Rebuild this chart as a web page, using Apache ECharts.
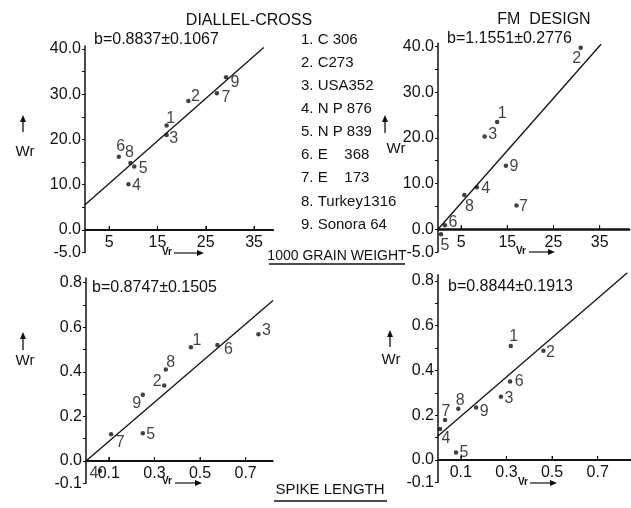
<!DOCTYPE html>
<html><head><meta charset="utf-8">
<script src="https://cdn.jsdelivr.net/npm/echarts@6/dist/echarts.min.js"></script>
<style>html,body{margin:0;padding:0;background:#fff}#c{width:631px;height:508px;background:#fff}</style>
</head><body><div id="c"></div>
<script>
// ---------- data ----------
const ids = ['1','2','3','4','5','6','7','8','9'];
const genotypes = ['C 306','C273','USA352','N P 876','N P 839','E    368','E    173','Turkey1316','Sonora 64'];

// 1000 grain weight, diallel cross
const dcGrainVr = [16.9, 21.4, 16.9, 9.0, 10.2, 7.0, 27.3, 9.4, 29.2];
const dcGrainWr = [23.1, 28.5, 21.0, 10.1, 14.0, 16.2, 30.2, 14.8, 33.7];
const dcGrainFitVr = [0, 37];
const dcGrainFitWr = [5.6, 40.3];
// 1000 grain weight, FM design
const fmGrainVr = [12.8, 30.9, 10.1, 8.4, 0.65, 1.5, 17.0, 5.7, 14.7];
const fmGrainWr = [23.5, 39.7, 20.3, 9.2, -1.1, 0.9, 5.2, 7.5, 13.9];
const fmGrainFitVr = [0, 35.3];
const fmGrainFitWr = [0, 40.5];
// spike length, diallel cross
const dcSpikeVr = [0.46, 0.343, 0.756, 0.061, 0.249, 0.576, 0.11, 0.35, 0.249];
const dcSpikeWr = [0.51, 0.338, 0.568, -0.045, 0.124, 0.52, 0.12, 0.41, 0.297];
const dcSpikeFitVr = [0, 0.82];
const dcSpikeFitWr = [0, 0.72];
// spike length, FM design
const fmSpikeVr = [0.319, 0.462, 0.276, 0.009, 0.079, 0.316, 0.031, 0.089, 0.167];
const fmSpikeWr = [0.509, 0.488, 0.283, 0.138, 0.033, 0.35, 0.179, 0.229, 0.235];
const fmSpikeFitVr = [0, 0.83];
const fmSpikeFitWr = [0.107, 0.836];

const grainWrTicks = [-5, 0, 10, 20, 30, 40];
const grainVrTicks = [5, 15, 25, 35];
const spikeWrTicks = [-0.1, 0, 0.2, 0.4, 0.6, 0.8];
const spikeVrTicks = [0.1, 0.3, 0.5, 0.7];

const slopeTexts = ['b=0.8837±0.1067', 'b=1.1551±0.2776', 'b=0.8747±0.1505', 'b=0.8844±0.1913'];
const designTitles = ['DIALLEL-CROSS', 'FM  DESIGN'];
const traitTitles = ['1000 GRAIN WEIGHT', 'SPIKE LENGTH'];

// ---------- styling / layout ----------
const FONT = '"Liberation Sans", Arial, sans-serif';
const INK = '#111';
const labelOffsets = [
  [[4,-7],[7,-4],[7,4],[8,1],[9,2],[2,-10],[9,4],[-1,-10],[9,5]],
  [[5,-8],[-4,11],[8,-2],[9,1],[4,11],[8,-3],[7,1],[5,12],[8,1]],
  [[6,-7],[-7,-4],[8,-4],[-6,3],[8,1],[11,5],[9,8],[5,-7],[-6,9]],
  [[3,-9],[7,2],[8,2],[6,9],[8,0],[9,0],[1,-8],[2,-8],[8,4]]
];
const panels = [
  {vr: dcGrainVr, wr: dcGrainWr, fv: dcGrainFitVr, fw: dcGrainFitWr, xt: grainVrTicks, yt: grainWrTicks, yStep: 5,
   grid: {left: 85, top: 46.1, width: 188.4, height: 206.6}, xMax: 39, yMin: -5, yMax: 40.6},
  {vr: fmGrainVr, wr: fmGrainWr, fv: fmGrainFitVr, fw: fmGrainFitWr, xt: grainVrTicks, yt: grainWrTicks, yStep: 5,
   grid: {left: 438, top: 43.3, width: 191.7, height: 208.8}, xMax: 41.5, yMin: -5, yMax: 40.7},
  {vr: dcSpikeVr, wr: dcSpikeWr, fv: dcSpikeFitVr, fw: dcSpikeFitWr, xt: spikeVrTicks, yt: spikeWrTicks, yStep: 0.1,
   grid: {left: 86, top: 278.1, width: 187, height: 205.2}, xMax: 0.82, yMin: -0.1, yMax: 0.82},
  {vr: fmSpikeVr, wr: fmSpikeWr, fv: fmSpikeFitVr, fw: fmSpikeFitWr, xt: spikeVrTicks, yt: spikeWrTicks, yStep: 0.1,
   grid: {left: 438, top: 274.8, width: 193, height: 207.6}, xMax: 0.846, yMin: -0.1, yMax: 0.827}
];

const grids = [], xAxes = [], yAxes = [], series = [];
panels.forEach((p, k) => {
  grids.push(Object.assign({}, p.grid));
  const zeroShift = -p.grid.height * (0 - p.yMin) / (p.yMax - p.yMin);
  xAxes.push({
    type: 'value', gridIndex: k, min: 0, max: p.xMax, position: 'bottom', offset: zeroShift,
    axisLine: {show: true, onZero: false, lineStyle: {color: INK, width: 1.5}},
    axisTick: {show: true, inside: true, length: 4, customValues: p.xt, lineStyle: {color: INK, width: 1}},
    axisLabel: {show: true, customValues: p.xt, margin: 5, fontSize: 16, color: INK, fontFamily: FONT,
                formatter: v => String(+v.toFixed(2))},
    splitLine: {show: false}
  });
  yAxes.push({
    type: 'value', gridIndex: k, min: p.yMin, max: p.yMax, interval: p.yStep,
    axisLine: {show: true, onZero: false, lineStyle: {color: INK, width: 1.5}},
    axisTick: {show: true, inside: false, length: 3, lineStyle: {color: INK}},
    axisLabel: {show: true, margin: 4, fontSize: 16, color: INK, fontFamily: FONT, showMaxLabel: false,
                formatter: v => p.yt.some(t => Math.abs(t - v) < 1e-6) ? (Math.abs(v) < 1e-9 ? 0 : v).toFixed(1) : ''},
    splitLine: {show: false}
  });
  // Vr axis along Wr = 0
  series.push({
    type: 'line', xAxisIndex: k, yAxisIndex: k, silent: true, showSymbol: false, animation: false, z: 10,
    clip: false, data: [[0, 0], [p.xMax, 0]],
    lineStyle: {color: INK, width: 1.5}
  });
  series.push({
    type: 'line', xAxisIndex: k, yAxisIndex: k, silent: true, showSymbol: false, animation: false,
    clip: false, data: p.fv.map((x, i) => [x, p.fw[i]]),
    lineStyle: {color: INK, width: 1.3}
  });
  series.push({
    type: 'scatter', xAxisIndex: k, yAxisIndex: k, animation: false,
    symbolSize: 4.5, itemStyle: {color: INK},
    data: p.vr.map((x, i) => ({value: [x, p.wr[i]], label: {offset: labelOffsets[k][i]}})),
    label: {show: true, position: 'inside', formatter: q => ids[q.dataIndex],
            fontSize: 16, color: INK, fontFamily: FONT, align: 'center', verticalAlign: 'middle'}
  });
});

// ---------- annotations ----------
const graphic = [];
function txt(text, x, y, size, align, weight) {
  graphic.push({type: 'text', x, y, silent: true,
    style: {text, font: (weight ? weight + ' ' : '') + size + 'px ' + FONT, fill: INK, align: align || 'left', verticalAlign: 'middle'}});
}
function seg(x1, y1, x2, y2, w) {
  graphic.push({type: 'line', silent: true, z: 50, shape: {x1, y1, x2, y2}, style: {stroke: INK, lineWidth: w || 1.3}});
}
function arrowRight(x1, x2, y) {
  seg(x1, y, x2 - 3, y, 1.2);
  graphic.push({type: 'polygon', silent: true, shape: {points: [[x2, y], [x2 - 7, y - 3], [x2 - 7, y + 3]]}, style: {fill: INK}});
}
function arrowUp(x, yBottom, yTop) {
  seg(x, yBottom, x, yTop + 3, 1.3);
  graphic.push({type: 'polygon', silent: true, shape: {points: [[x, yTop], [x - 3, yTop + 7], [x + 3, yTop + 7]]}, style: {fill: INK}});
}

txt(designTitles[0], 249, 21, 16, 'center');
txt(designTitles[1], 544, 20, 16, 'center');
txt(slopeTexts[0], 94, 40, 16);
txt(slopeTexts[1], 447, 39, 16);
txt(slopeTexts[2], 92, 288, 16);
txt(slopeTexts[3], 448, 287, 16);

const legendY = [40, 63, 86, 109, 132, 155, 178, 202, 225];
genotypes.forEach((g, i) => txt(ids[i] + '. ' + g, 301, legendY[i], 15));

txt(traitTitles[0], 337, 256, 14, 'center');
seg(269, 264, 405, 264, 1.3);
txt(traitTitles[1], 330, 490, 15, 'center');
seg(274, 501, 387, 501, 1.3);

[[167, 252, 174, 204, 253], [521, 251, 529, 555, 252], [167, 481, 175, 202, 483], [523, 482, 530, 557, 483]]
  .forEach(a => { txt('Vr', a[0], a[1], 10, 'center', 'bold'); arrowRight(a[2], a[3], a[4]); });
[[23, 132, 115, 25, 152], [385, 133, 115, 396, 149], [23, 350, 332, 25, 361], [390, 347, 330, 391, 360]]
  .forEach(a => { arrowUp(a[0], a[1], a[2]); txt('Wr', a[3], a[4], 15, 'center'); });

const chart = echarts.init(document.getElementById('c'), null, {renderer: 'canvas'});
chart.setOption({animation: false, grid: grids, xAxis: xAxes, yAxis: yAxes, series, graphic});

// extra safety: Vr axis line along Wr = 0, positioned through each grid's scales
try {
  panels.forEach((p, k) => {
    const f = {xAxisIndex: k, yAxisIndex: k};
    const a = chart.convertToPixel(f, [0, 0]);
    const b = chart.convertToPixel(f, [p.xMax, 0]);
    if (a && b && isFinite(a[1])) {
      seg(a[0], a[1], b[0], b[1], 1.5);
      p.xt.forEach(v => {
        const t = chart.convertToPixel(f, [v, 0]);
        seg(t[0], t[1], t[0], t[1] - 4, 1);
      });
    }
  });
  chart.setOption({graphic});
} catch (e) { /* keep the base chart */ }
</script></body></html>
